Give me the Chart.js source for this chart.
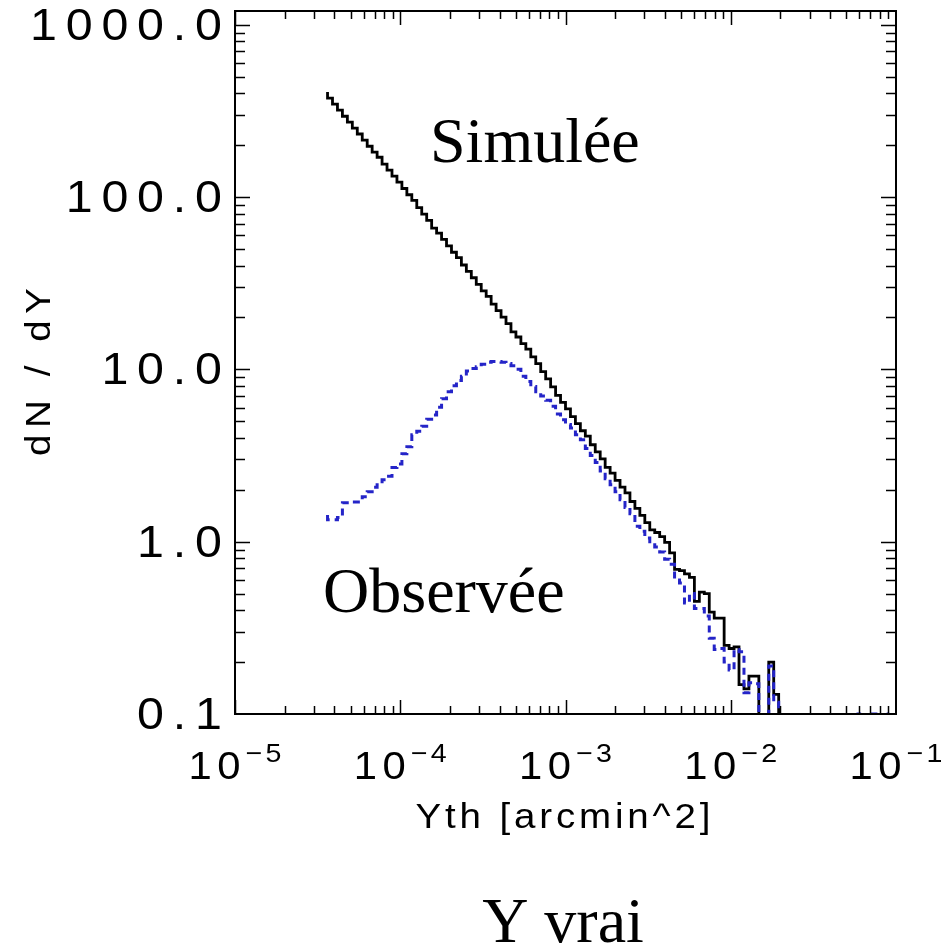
<!DOCTYPE html>
<html>
<head>
<meta charset="utf-8">
<script src="https://cdn.jsdelivr.net/npm/chart.js@4.4.1/dist/chart.umd.min.js"></script>
<style>
  html, body { margin: 0; padding: 0; background: #fff; }
  #wrap { width: 942px; height: 949px; }
</style>
</head>
<body>
<div id="wrap"><canvas id="graf"></canvas></div>
<script>
// histogram bins : log10 of first left edge, width in dex
const binStart = -4.44;
const binWidth = 0.03;

// dN/dY, courbe simulée (noir) ; 0.05 = bin vide (sous l'axe)
const simulee = [
  406, 375, 346, 319, 294, 272, 251, 232, 214, 197,
  182, 170, 155, 143, 132, 122, 112, 103, 95.5, 86.7,
  79.6, 73.1, 66, 61.7, 56.7, 52.1, 47.8, 44.5, 40.3, 37.0,
  34.0, 31.1, 28.5, 26.5, 23.9, 21.9, 20.1, 18.4, 16.5, 15.4,
  14.1, 13.1, 11.8, 10.8, 9.7, 8.8, 7.9, 7.06, 6.43, 5.9,
  5.32, 4.84, 4.40, 4.1, 3.65, 3.32, 3.02, 2.70, 2.50, 2.27,
  2.07, 1.92, 1.71, 1.56, 1.42, 1.29, 1.17, 1.13, 1.07, 0.99,
  0.86, 0.69, 0.68, 0.65, 0.62, 0.45, 0.51, 0.50, 0.39, 0.36,
  0.36, 0.25, 0.24, 0.245, 0.148, 0.14, 0.166, 0.166, 0.05, 0.05,
  0.2, 0.13, 0.05, 0.05, 0.05, 0.05, 0.05, 0.05, 0.05, 0.05,
  0.05, 0.05, 0.05, 0.05, 0.05, 0.05, 0.05, 0.05, 0.05, 0.05,
  0.05, 0.05, 0.05, 0.05, 0.05
];

// dN/dY, courbe observée (bleu, tirets)
const observee = [
  1.43, 1.34, 1.34, 1.38, 1.68, 1.68, 1.70, 1.70, 1.82, 1.95,
  2.07, 2.14, 2.29, 2.40, 2.69, 2.82, 3.24, 3.55, 4.17, 4.37,
  4.68, 5.13, 5.43, 6.03, 6.76, 7.41, 8.04, 8.61, 9.12, 9.77,
  10.1, 10.35, 10.7, 11.0, 11.1, 11.1, 11.0, 10.8, 10.5, 10.0,
  9.12, 8.5, 7.94, 7.41, 7.0, 6.61, 6.1, 5.5, 5.09, 4.79,
  4.57, 4.17, 3.90, 3.47, 3.16, 2.88, 2.57, 2.32, 2.14, 1.95,
  1.75, 1.58, 1.45, 1.23, 1.15, 1.05, 0.98, 0.93, 0.87, 0.79,
  0.74, 0.60, 0.575, 0.44, 0.50, 0.41, 0.41, 0.37, 0.275, 0.237,
  0.24, 0.20, 0.18, 0.237, 0.23, 0.133, 0.152, 0.15, 0.05, 0.05,
  0.19, 0.117, 0.05, 0.05, 0.05, 0.05, 0.05, 0.05, 0.05, 0.05,
  0.05, 0.05, 0.05, 0.05, 0.05, 0.05, 0.05, 0.05, 0.1, 0.05,
  0.1, 0.1, 0.05, 0.1, 0.05
];

const yTicks = [0.1, 1, 10, 100, 1000];
const yTickLabels = ['0.1', '1.0', '10.0', '100.0', '1000.0'];
const xTickExp = [-5, -4, -3, -2, -1];

function enMarches(vals) {
  const pts = vals.map((v, i) => ({ x: Math.pow(10, binStart + i * binWidth), y: v }));
  pts.push({ x: Math.pow(10, binStart + vals.length * binWidth), y: vals[vals.length - 1] });
  return pts;
}

const SANS = '"Liberation Sans", Arial, sans-serif';

// texte etire horizontalement (imitation police vectorielle IDL)
function texte(ctx, txt, x, y, size, sx, ls, align) {
  ctx.save();
  ctx.font = size + 'px ' + SANS;
  ctx.letterSpacing = ls + 'px';
  const w = ctx.measureText(txt).width - ls;
  let x0 = x;
  if (align === 'right') x0 = x - w * sx;
  else if (align === 'center') x0 = x - w * sx / 2;
  ctx.translate(x0, y);
  ctx.scale(sx, 1);
  ctx.textAlign = 'left';
  ctx.fillText(txt, 0, 0);
  ctx.restore();
  return w * sx;
}

function largeur(ctx, txt, size, sx, ls) {
  ctx.save();
  ctx.font = size + 'px ' + SANS;
  ctx.letterSpacing = ls + 'px';
  const w = ctx.measureText(txt).width - ls;
  ctx.restore();
  return w * sx;
}

// cadre IDL : boite, ticks vers l'interieur, libelles
const cadre = {
  id: 'cadre',
  afterDatasetsDraw(chart) {
    const ctx = chart.ctx;
    const a = chart.chartArea;
    const sx = chart.scales.x, sy = chart.scales.y;
    ctx.save();
    ctx.strokeStyle = '#000';
    ctx.lineWidth = 2;
    ctx.strokeRect(a.left, a.top, a.right - a.left, a.bottom - a.top);

    ctx.lineWidth = 1.5;
    ctx.beginPath();
    for (let d = -5; d <= -1; d++) {
      for (let k = 1; k <= 9; k++) {
        const v = k * Math.pow(10, d);
        if (v <= 1e-5 * 0.999 || v >= 0.1 * 0.999) continue;
        const px = Math.round(sx.getPixelForValue(v)) + 0.5;
        const len = k === 1 ? 14 : 8;
        ctx.moveTo(px, a.bottom); ctx.lineTo(px, a.bottom - len);
        ctx.moveTo(px, a.top); ctx.lineTo(px, a.top + len);
      }
    }
    for (let d = -1; d <= 3; d++) {
      for (let k = 1; k <= 9; k++) {
        const v = k * Math.pow(10, d);
        if (v <= 0.1 * 1.001 || v > sy.max) continue;
        const py = Math.round(sy.getPixelForValue(v)) + 0.5;
        const len = k === 1 ? 15 : 10;
        ctx.moveTo(a.left, py); ctx.lineTo(a.left + len, py);
        ctx.moveTo(a.right, py); ctx.lineTo(a.right - len, py);
      }
    }
    ctx.stroke();

    ctx.fillStyle = '#000';
    ctx.textBaseline = 'alphabetic';
    yTicks.forEach((v, i) => {
      const py = sy.getPixelForValue(v);
      texte(ctx, yTickLabels[i], 222, py + 15, 44, 1.1, 8, 'right');
    });

    xTickExp.forEach(e => {
      const px = sx.getPixelForValue(Math.pow(10, e));
      const sup = '\u2212' + Math.abs(e);
      const w1 = largeur(ctx, '10', 38, 1.1, 5);
      const w2 = largeur(ctx, sup, 26, 1.1, 3);
      const x0 = px - (w1 + 5 + w2) / 2;
      texte(ctx, '10', x0, 779, 38, 1.1, 5, 'left');
      texte(ctx, sup, x0 + w1 + 5, 762, 26, 1.1, 3, 'left');
    });

    texte(ctx, 'Yth [arcmin^2]', 563, 828, 35, 1.1, 3.5, 'center');

    ctx.save();
    ctx.translate(50, 372);
    ctx.rotate(-Math.PI / 2);
    texte(ctx, 'dN / dY', 0, 0, 35, 1.1, 6, 'center');
    ctx.restore();

    ctx.letterSpacing = '0px';
    ctx.font = '64px "Liberation Serif", "Times New Roman", serif';
    ctx.textAlign = 'left';
    ctx.fillText('Simulée', 430, 162);
    ctx.fillText('Observée', 323, 612);
    ctx.textAlign = 'center';
    ctx.fillText('Y vrai', 563, 942);
    ctx.restore();
  }
};

const ctx = document.getElementById('graf').getContext('2d');
new Chart(ctx, {
  type: 'line',
  data: {
    datasets: [
      {
        label: 'Observée',
        data: enMarches(observee),
        borderColor: '#2424c8',
        borderWidth: 3,
        borderDash: [7, 5],
        stepped: 'after',
        pointRadius: 0,
        fill: false
      },
      {
        label: 'Simulée',
        data: enMarches(simulee),
        borderColor: '#000000',
        borderWidth: 2.8,
        stepped: 'after',
        pointRadius: 0,
        fill: false
      }
    ]
  },
  options: {
    responsive: true,
    maintainAspectRatio: false,
    animation: false,
    layout: { padding: { left: 235, top: 11, right: 46, bottom: 235 } },
    plugins: {
      legend: { display: false },
      tooltip: { enabled: false },
      title: { display: false }
    },
    scales: {
      x: { type: 'logarithmic', min: 1e-5, max: 0.1, display: false },
      y: { type: 'logarithmic', min: 0.1, max: 1200, display: false }
    }
  },
  plugins: [cadre]
});
</script>
</body>
</html>
